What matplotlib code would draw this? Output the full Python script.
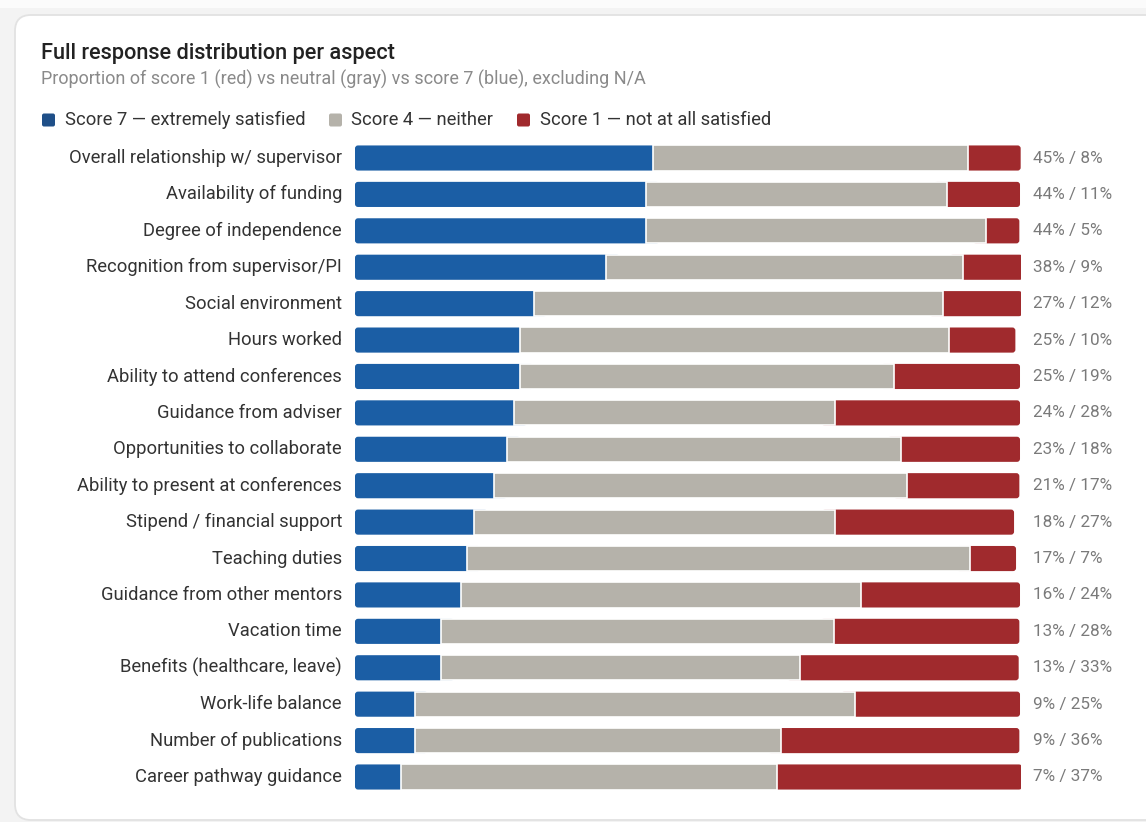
import matplotlib.pyplot as plt
from matplotlib.patches import FancyBboxPatch, Rectangle

plt.rcParams['font.family'] = ['Roboto', 'DejaVu Sans']

aspects = [
    'Overall relationship w/ supervisor',
    'Availability of funding',
    'Degree of independence',
    'Recognition from supervisor/PI',
    'Social environment',
    'Hours worked',
    'Ability to attend conferences',
    'Guidance from adviser',
    'Opportunities to collaborate',
    'Ability to present at conferences',
    'Stipend / financial support',
    'Teaching duties',
    'Guidance from other mentors',
    'Vacation time',
    'Benefits (healthcare, leave)',
    'Work-life balance',
    'Number of publications',
    'Career pathway guidance',
]
score7 = [45, 44, 44, 38, 27, 25, 25, 24, 23, 21, 18, 17, 16, 13, 13, 9, 9, 7]
neutral = [47.6, 45.5, 51.4, 53.9, 61.8, 64.8, 56.5, 48.5, 59.5, 62.4,
           54.6, 75.9, 60.5, 59.4, 54.3, 66.5, 55.4, 56.8]
score1 = [8, 11, 5, 9, 12, 10, 19, 28, 18, 17, 27, 7, 24, 28, 33, 25, 36, 37]

BLUE = '#1b5ea5'
GRAY = '#b5b2aa'
RED = '#a02a2d'

W, H = 1146, 822
fig = plt.figure(figsize=(W / 100, H / 100), dpi=100)
fig.patch.set_facecolor('#f3f3f3')

# background layer in pixel coordinates for the card and header
bg = fig.add_axes([0, 0, 1, 1], zorder=0)
bg.set_xlim(0, W)
bg.set_ylim(H, 0)
bg.axis('off')
bg.add_patch(Rectangle((0, 0), W, 8, facecolor='#fbfbfb', edgecolor='none'))
bg.add_patch(FancyBboxPatch((15, 15), W + 40, 805,
                            boxstyle='round,pad=0,rounding_size=16',
                            facecolor='white', edgecolor='#e2e2e2', lw=1.3))

bg.text(41, 53, 'Full response distribution per aspect', fontsize=15.7,
        fontweight='medium', color='#222222', va='center', ha='left')
bg.text(41, 79, 'Proportion of score 1 (red) vs neutral (gray) vs score 7 (blue), excluding N/A',
        fontsize=13, color='#8a8a8a', va='center', ha='left')

legend_items = [(42, 65, '#1f4f88', 'Score 7 \u2014 extremely satisfied'),
                (329, 351, GRAY, 'Score 4 \u2014 neither'),
                (517, 540, RED, 'Score 1 \u2014 not at all satisfied')]
for sx, tx, col, txt in legend_items:
    bg.add_patch(FancyBboxPatch((sx, 113.5), 13, 13,
                                boxstyle='round,pad=0,rounding_size=2',
                                facecolor=col, edgecolor='none'))
    bg.text(tx, 120, txt, fontsize=13.2, color='#333333', va='center', ha='left')

# main bar chart
ax = fig.add_axes([355 / W, 1 - 795.2 / H, 666 / W, (795.2 - 139.8) / H], zorder=1)
ax.patch.set_alpha(0)
ax.set_xlim(0, 100.65)
ax.set_ylim(len(aspects) - 0.5, -0.5)
ax.axis('off')

bh = 0.69
# data units per pixel, for rounded corners of fixed pixel size
ux = 100.65 / 666
uy = 18 / 655.4
r = 3 * ux
asp = uy / ux
label_x = (1033 - 355) * ux

for i, (b, g, rd) in enumerate(zip(score7, neutral, score1)):
    total = b + g + rd
    ax.add_patch(FancyBboxPatch((0, i - bh / 2), b + 2, bh,
                                boxstyle=f'round,pad=0,rounding_size={r}',
                                mutation_aspect=asp, facecolor=BLUE,
                                edgecolor='none', zorder=2))
    ax.add_patch(FancyBboxPatch((total - rd - 2, i - bh / 2), rd + 2, bh,
                                boxstyle=f'round,pad=0,rounding_size={r}',
                                mutation_aspect=asp, facecolor=RED,
                                edgecolor='none', zorder=2))
    ax.barh(i, g, left=b, height=bh, color=GRAY, edgecolor='white',
            linewidth=1.2, zorder=3)
    ax.text(label_x, i, f'{b}% / {rd}%', fontsize=12.3, color='#7a7a7a',
            va='center', ha='left', clip_on=False)
    ax.text(-13 * ux, i, aspects[i], fontsize=13.2, color='#333333',
            va='center', ha='right', clip_on=False)

fig.savefig('out.png', dpi=100, facecolor=fig.get_facecolor())
